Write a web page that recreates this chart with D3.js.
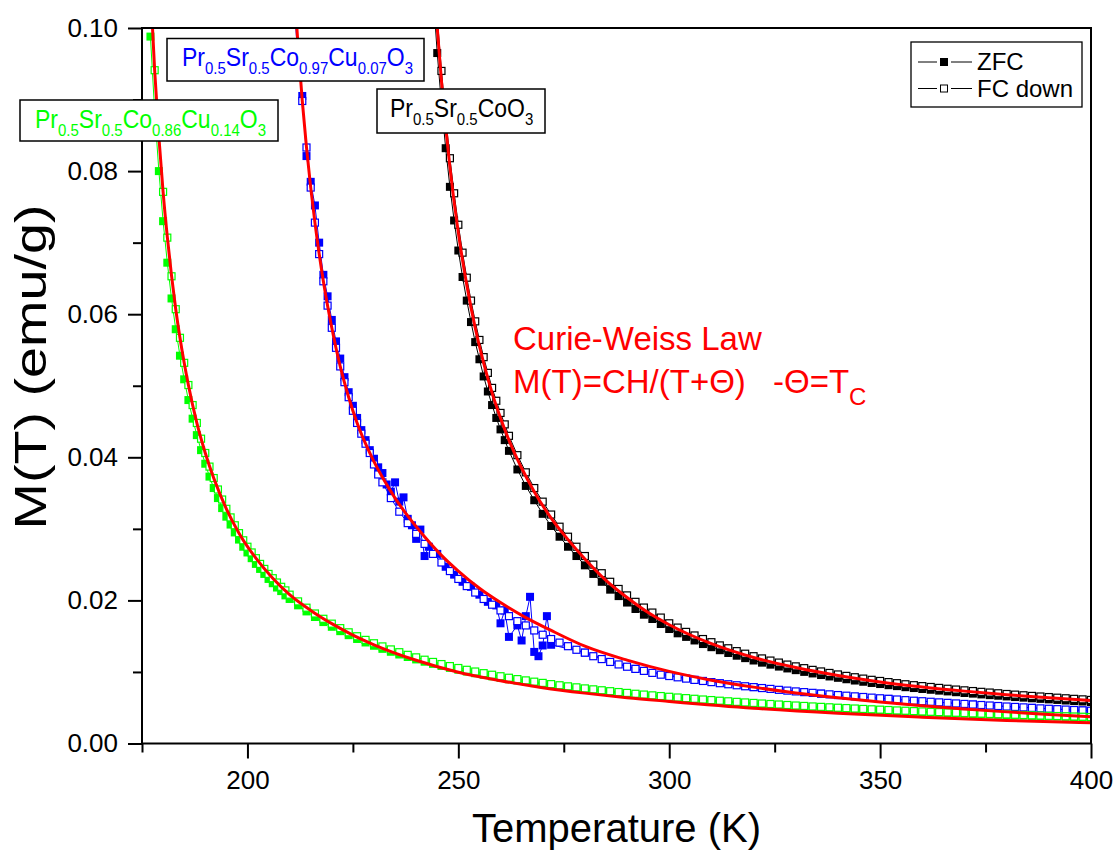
<!DOCTYPE html>
<html>
<head>
<meta charset="utf-8">
<script src="https://cdn.jsdelivr.net/npm/d3@7"></script>
<style>
  body { margin: 0; background: #fff; }
  svg text { font-family: Arial, "Liberation Sans", sans-serif; }
</style>
</head>
<body>
<svg id="chart" width="1118" height="852"></svg>
<script>
// ---- data (T in K, M in emu/g) ----
var blackT = [244,245,246,247,248,249,250,251,252,253,254,255,256,257,258,259,260,261,262,
  264,266,268,270,272,274,276,278,280,282,284,286,288,290,292,294,296,298,300,302,304,306,308,310,
  312,314,316,318,320,322,324,326,328,330,332,334,336,338,340,342,344,346,348,350,352,354,356,358,
  360,362,364,366,368,370,372,374,376,378,380,382,384,386,388,390,392,394,396,398,400];
var blackFC = [0.1103,0.1015,0.094,0.0875,0.0818,0.0769,0.0725,0.0686,0.0651,0.0619,0.059,0.0564,0.054,0.0518,0.0497,0.0479,0.0462,0.0446,0.043,
  0.0403,0.0379,0.0357,0.0338,0.032,0.0303,0.0289,0.0275,0.0262,0.025,0.0238,0.0226,0.0216,0.0207,0.0198,0.019,0.0183,0.0176,0.0168,0.0162,0.0156,0.0151,0.0146,0.01416,
  0.01371,0.01331,0.01291,0.01255,0.0122,0.01189,0.01159,0.01131,0.01103,0.01078,0.01053,0.01029,0.01007,0.00986,0.00965,0.00945,0.00926,0.00907,0.0089,0.00874,0.00858,0.00843,0.00828,0.00815,
  0.00802,0.0079,0.00777,0.00765,0.00754,0.00743,0.00733,0.00722,0.00712,0.00702,0.00692,0.00683,0.00674,0.00665,0.00657,0.00649,0.0064,0.00632,0.00624,0.00617,0.00609];
var blackZFC = [0.1049,0.0965,0.0894,0.0832,0.0778,0.0731,0.0689,0.0652,0.0619,0.0589,0.0561,0.0537,0.0513,0.0492,0.0473,0.0455,0.0439,0.0424,0.0409,
  0.0383,0.036,0.034,0.0321,0.0304,0.0289,0.0275,0.0262,0.0249,0.0237,0.0226,0.0215,0.0206,0.0197,0.0188,0.018,0.0174,0.0167,0.016,0.0154,0.0149,0.0144,0.0139,0.01346,
  0.01304,0.01265,0.01227,0.01193,0.0116,0.0113,0.01102,0.01075,0.01049,0.01025,0.01001,0.00979,0.00957,0.00937,0.00918,0.00898,0.0088,0.00863,0.00846,0.00831,0.00815,0.00802,0.00787,0.00775,
  0.00762,0.00751,0.00739,0.00728,0.00717,0.00706,0.00697,0.00686,0.00676,0.00668,0.00658,0.00649,0.00641,0.00632,0.00624,0.00617,0.00609,0.00601,0.00593,0.00587,0.00579];

var blueT = [211,212,213,214,215,216,217,218,219,220,221,222,223,224,225,226,227,228,229,230,231,232,
  234,236,238,240,242,244,246,248,250,252,254,256,258,260,262,264,266,268,270,272,274,276,278,280,282,284,286,288,290,
  292,294,296,298,300,302,304,306,308,310,312,314,316,318,320,322,324,326,328,330,332,334,336,338,340,342,344,346,348,350,
  352,354,356,358,360,362,364,366,368,370,372,374,376,378,380,382,384,386,388,390,392,394,396,398,400];
var blueFC = [0.1064,0.0975,0.0898,0.0833,0.0777,0.0728,0.0684,0.0646,0.0612,0.0581,0.0553,0.0527,0.0505,0.0484,0.0465,0.0448,0.0433,0.0419,0.0406,0.039,0.0376,0.0365,
  0.0343,0.0324,0.0308,0.0293,0.0279,0.0265,0.0253,0.0241,0.023,0.022,0.0211,0.0202,0.0194,0.0186,0.0178,0.0171,0.0165,0.0158,0.0152,0.0146,0.0141,0.0136,0.0131,0.0127,0.0122,0.0118,0.0114,0.01105,0.01073,
  0.01043,0.01015,0.00987,0.00962,0.00943,0.00925,0.00907,0.00889,0.00874,0.00858,0.00843,0.00828,0.00814,0.008,0.00788,0.00775,0.00763,0.0075,0.00739,0.00728,0.00718,0.00708,0.00697,0.00687,0.00677,0.00668,0.00659,0.0065,0.00641,0.00632,
  0.00624,0.00615,0.00606,0.00598,0.00591,0.00583,0.00575,0.00568,0.0056,0.00553,0.00545,0.00538,0.00531,0.00524,0.00517,0.00511,0.00505,0.00498,0.00491,0.00485,0.0048,0.00474,0.00468,0.00463,0.00458];
var blueZfcT = [211,212,213,214,215,216,217,218,219,220,221,222,223,224,225,226,227,228,229,230,231,232,233,234,235,236,237,238,239,240,241,242,243,
  245,247,249,251,253,255,257,259,260,261,262,264,265,266,267,268,269,270,271,272,280,292,306,320,336,352,372,386,398];
var blueZFC = [0.104,0.0955,0.0905,0.0821,0.0785,0.0752,0.07,0.0655,0.0625,0.0592,0.0562,0.0538,0.0512,0.0491,0.0472,0.0455,0.0438,0.0424,0.041,0.0398,0.0386,0.0378,0.0362,0.0352,0.0365,0.0338,0.0344,0.0314,0.0305,0.0286,0.0299,0.0262,0.0275,
  0.0265,0.0247,0.0236,0.0226,0.0219,0.0208,0.0198,0.0193,0.0168,0.0186,0.0149,0.0165,0.0144,0.0178,0.0205,0.0128,0.0122,0.0137,0.0178,0.0138,0.0127,0.01043,0.00889,0.00788,0.00697,0.00624,0.00545,0.00498,0.00463];

var greenT = [177,178,179,180,181,182,183,184,185,186,187,188,189,190,191,192,193,194,195,196,197,198,199,200,201,202,203,204,205,206,207,208,209,210,
  212,214,216,218,220,222,224,226,228,230,232,234,236,238,240,242,244,246,248,250,252,254,256,258,260,262,264,266,268,270,
  272,274,276,278,280,282,284,286,288,290,292,294,296,298,300,302,304,306,308,310,312,314,316,318,320,322,324,326,328,330,
  332,334,336,338,340,342,344,346,348,350,352,354,356,358,360,362,364,366,368,370,372,374,376,378,380,382,384,386,388,390,392,394,396,398,400];
var greenFC = [0.1057,0.0941,0.0848,0.0771,0.0707,0.0653,0.0607,0.0567,0.0532,0.0501,0.0473,0.0448,0.0426,0.0406,0.0387,0.0371,0.0355,0.0341,0.0328,0.0316,0.0305,0.0294,0.0284,0.0275,0.0267,0.0259,0.0251,0.0244,0.0237,0.0231,0.0225,0.0219,0.0214,0.0208,
  0.01986,0.01898,0.01817,0.01743,0.01675,0.01612,0.01554,0.01499,0.01448,0.01401,0.01357,0.01315,0.01276,0.01239,0.01204,0.01171,0.0114,0.0111,0.01082,0.01055,0.0103,0.01006,0.00983,0.00961,0.0094,0.00919,0.009,0.00882,0.00864,0.00847,
  0.0083,0.00814,0.00799,0.00785,0.0077,0.00757,0.00744,0.00731,0.00719,0.00707,0.00695,0.00684,0.00673,0.00663,0.00653,0.00643,0.00634,0.00625,0.00615,0.00607,0.00598,0.0059,0.00582,0.00574,0.00567,0.00559,0.00552,0.00545,0.00538,0.00531,
  0.00525,0.00518,0.00512,0.00506,0.005,0.00495,0.00489,0.00483,0.00478,0.00473,0.00468,0.00462,0.00458,0.00453,0.00448,0.00443,0.00439,0.00434,0.0043,0.00426,0.00421,0.00417,0.00413,0.00409,0.00406,0.00402,0.00398,0.00394,0.00391,0.00387,0.00384,0.0038,0.00377,0.00374,0.0037];
var greenZFC = [0.0988,0.0884,0.08,0.073,0.0672,0.0622,0.0579,0.0542,0.0509,0.048,0.0454,0.0431,0.041,0.0391,0.0373,0.0357,0.0343,0.0329,0.0317,0.0306,0.0295,0.0285,0.0275,0.0267,0.0259,0.0251,0.0244,0.0237,0.023,0.0224,0.0218,0.0213,0.0207,0.0202,
  0.01931,0.01846,0.01768,0.01697,0.01631,0.0157,0.01514,0.01461,0.01412,0.01366,0.01323,0.01282,0.01244,0.01209,0.01175,0.01143,0.01113,0.01084,0.01057,0.01031,0.01006,0.00982,0.0096,0.00939,0.00918,0.00898,0.0088,0.00862,0.00844,0.00828,
  0.00812,0.00796,0.00781,0.00767,0.00753,0.0074,0.00727,0.00715,0.00703,0.00691,0.0068,0.00669,0.00659,0.00649,0.00639,0.00629,0.0062,0.00611,0.00602,0.00594,0.00585,0.00577,0.00569,0.00562,0.00554,0.00547,0.0054,0.00533,0.00527,0.0052,
  0.00514,0.00508,0.00501,0.00496,0.0049,0.00484,0.00479,0.00473,0.00468,0.00463,0.00458,0.00453,0.00448,0.00443,0.00439,0.00434,0.0043,0.00425,0.00421,0.00417,0.00413,0.00409,0.00405,0.00401,0.00397,0.00393,0.0039,0.00386,0.00383,0.00379,0.00376,0.00373,0.00369,0.00366,0.00363];

// Curie-Weiss fit curves (red)
var blackFitT = [244,245,246,247,248,250,252,254,256,258,260,262,265,268,272,276,280,285,290,295,300,310,320,330,340,350,360,370,380,390,400];
var blackFitM = [0.1087,0.1,0.0926,0.0862,0.0806,0.0714,0.0641,0.0581,0.0532,0.049,0.0455,0.0424,0.0385,0.0352,0.0315,0.0285,0.0258,0.0228,0.0204,0.0183,0.0166,0.01395,0.01202,0.01062,0.00951,0.00861,0.0079,0.00732,0.00682,0.00639,0.006];
var blueFitT = [211,212,213,214,215,216,218,220,222,224,226,228,230,232,235,238,242,246,250,255,260,266,272,280,290,300,310,320,330,340,350,360,370,380,390,400];
var blueFitM = [0.1064,0.0975,0.0898,0.0833,0.0777,0.0728,0.0646,0.0581,0.0527,0.0484,0.0448,0.0419,0.0394,0.0372,0.0343,0.0318,0.0289,0.0263,0.0241,0.0217,0.0197,0.0176,0.0158,0.0136,0.01165,0.01008,0.00885,0.00788,0.00707,0.00639,0.0058,0.00528,0.00483,0.00442,0.00406,0.00375];
var greenFitT = [177,178,179,180,181,182,183,184,185,186,188,190,192,195,198,202,206,210,215,220,225,230,240,250,260,270,280,290,300,320,340,360,380,400];
var greenFitM = [0.1057,0.0941,0.0848,0.0771,0.0708,0.0654,0.0607,0.0567,0.0532,0.0501,0.0448,0.0406,0.0371,0.0328,0.0294,0.0259,0.0231,0.0208,0.0186,0.01675,0.01515,0.0138,0.01163,0.00995,0.00877,0.0078,0.00704,0.0064,0.00588,0.00493,0.00422,0.00368,0.00323,0.0029];

// ticks and text
var xMajor = [200, 250, 300, 350, 400];
var xMinor = [175, 225, 275, 325, 375];
var yMajor = [0, 0.02, 0.04, 0.06, 0.08, 0.10];
var yMinor = [0.01, 0.03, 0.05, 0.07, 0.09];
var greenLabel = [["Pr",0],["0.5",1],["Sr",0],["0.5",1],["Co",0],["0.86",1],["Cu",0],["0.14",1],["O",0],["3",1]];
var blueLabel  = [["Pr",0],["0.5",1],["Sr",0],["0.5",1],["Co",0],["0.97",1],["Cu",0],["0.07",1],["O",0],["3",1]];
var blackLabel = [["Pr",0],["0.5",1],["Sr",0],["0.5",1],["CoO",0],["3",1]];
var legendNames = ["ZFC", "FC down"];

var GREEN = "#00ff00", BLUE = "#0000ff", RED = "#ff0000";

var svg = d3.select("#chart");
svg.append("rect").attr("width", 1118).attr("height", 852).attr("fill", "#fff");

var x = d3.scaleLinear().domain([175, 400]).range([142, 1091]);
var y = d3.scaleLinear().domain([0, 0.1]).range([743.5, 28]);

svg.append("defs").append("clipPath").attr("id", "plotClip")
   .append("rect").attr("x", 142).attr("y", 28).attr("width", 949).attr("height", 715.5);

var plot = svg.append("g").attr("clip-path", "url(#plotClip)");

function pts(ts, ms) {
    var n = Math.min(ts.length, ms.length);
    return ts.slice(0, n).map(function(t, i) { return {t: t, m: ms[i]}; });
}

var series = [
    {t: blackT, m: blackZFC, color: "#000000", filled: true},
    {t: blackT, m: blackFC, color: "#000000", filled: false},
    {t: blueZfcT, m: blueZFC, color: BLUE, filled: true},
    {t: blueT, m: blueFC, color: BLUE, filled: false},
    {t: greenT, m: greenZFC, color: GREEN, filled: true},
    {t: greenT, m: greenFC, color: GREEN, filled: false}
];

var line = d3.line().x(function(d) { return x(d.t); }).y(function(d) { return y(d.m); });

series.forEach(function(s) {
    var data = pts(s.t, s.m);
    plot.append("path").datum(data)
        .attr("d", line)
        .attr("fill", "none")
        .attr("stroke", s.color)
        .attr("stroke-width", 1);
    plot.selectAll(null).data(data).enter().append("rect")
        .attr("x", function(d) { return x(d.t) - (s.filled ? 4 : 3.5); })
        .attr("y", function(d) { return y(d.m) - (s.filled ? 4 : 3.5); })
        .attr("width", s.filled ? 8 : 7)
        .attr("height", s.filled ? 8 : 7)
        .attr("fill", s.filled ? s.color : "#ffffff")
        .attr("stroke", s.filled ? "none" : s.color)
        .attr("stroke-width", 1.2);
});

var fitLine = d3.line().curve(d3.curveMonotoneX)
    .x(function(d) { return x(d.t); }).y(function(d) { return y(d.m); });

[[blackFitT, blackFitM], [blueFitT, blueFitM], [greenFitT, greenFitM]].forEach(function(f) {
    plot.append("path").datum(pts(f[0], f[1]))
        .attr("d", fitLine)
        .attr("fill", "none")
        .attr("stroke", RED)
        .attr("stroke-width", 3);
});

// axes
function styleAxis(g) {
    g.select(".domain").remove();
    g.selectAll(".tick line").attr("stroke", "#000").attr("stroke-width", 2);
    g.selectAll(".tick text").attr("fill", "#000").attr("font-size", 26)
     .style("font-family", "Arial, 'Liberation Sans', sans-serif");
}

svg.append("g").attr("transform", "translate(0,743.5)")
   .call(d3.axisBottom(x).tickValues(xMajor).tickSize(15).tickPadding(12).tickFormat(d3.format("d")))
   .call(styleAxis);
svg.append("g").attr("transform", "translate(0,743.5)")
   .call(d3.axisBottom(x).tickValues(xMinor).tickSize(9).tickFormat(""))
   .call(styleAxis);
svg.append("g").attr("transform", "translate(142,0)")
   .call(d3.axisLeft(y).tickValues(yMajor).tickSize(14).tickPadding(10).tickFormat(d3.format(".2f")))
   .call(styleAxis);
svg.append("g").attr("transform", "translate(142,0)")
   .call(d3.axisLeft(y).tickValues(yMinor).tickSize(9).tickFormat(""))
   .call(styleAxis);

svg.append("rect")
   .attr("x", x(175)).attr("y", y(0.1))
   .attr("width", x(400) - x(175)).attr("height", y(0) - y(0.1))
   .attr("fill", "none").attr("stroke", "#000").attr("stroke-width", 2);

svg.append("text")
   .attr("x", (x(175) + x(400)) / 2).attr("y", 842)
   .attr("text-anchor", "middle").attr("font-size", 40)
   .text("Temperature (K)");

svg.append("text")
   .attr("transform", "translate(46,367) rotate(-90)")
   .attr("text-anchor", "middle").attr("font-size", 45)
   .attr("textLength", 325).attr("lengthAdjust", "spacingAndGlyphs")
   .text("M(T) (emu/g)");

// compound labels with subscripts (glyphs slightly taller than wide, as in the source)
function formula(x0, y0, parts, color, big, small, shift) {
    var t = svg.append("text")
        .attr("transform", "translate(" + x0 + "," + y0 + ") scale(1,1.15)")
        .attr("fill", color).attr("font-size", big);
    var low = false;
    parts.forEach(function(p) {
        var sp = t.append("tspan").text(p[0]);
        if (p[1] && !low) { sp.attr("dy", shift).attr("font-size", small); low = true; }
        else if (p[1]) { sp.attr("font-size", small); }
        else if (!p[1] && low) { sp.attr("dy", -shift); low = false; }
    });
    return t;
}

function labelBox(x0, y0, w, h) {
    svg.append("rect").attr("x", x0).attr("y", y0).attr("width", w).attr("height", h)
       .attr("fill", "#fff").attr("stroke", "#000").attr("stroke-width", 1.5);
}

labelBox(20, 100, 258, 41);
formula(35, 128, greenLabel, GREEN, 23, 15, 7);
labelBox(167, 38.5, 257, 42.5);
formula(182, 66, blueLabel, BLUE, 23, 15, 7);
labelBox(377, 89, 168, 44);
formula(390, 117, blackLabel, "#000000", 23, 15, 7);

// Curie-Weiss annotation
svg.append("text").attr("x", 513).attr("y", 350).attr("fill", RED).attr("font-size", 33)
   .text("Curie-Weiss Law");
svg.append("text").attr("x", 513).attr("y", 393).attr("fill", RED).attr("font-size", 33)
   .text("M(T)=CH/(T+\u0398)");
var tc = svg.append("text").attr("x", 773).attr("y", 393).attr("fill", RED).attr("font-size", 33);
tc.append("tspan").text("-\u0398=T");
tc.append("tspan").attr("dy", 12).attr("font-size", 24).text("C");

// legend
var lg = svg.append("g");
lg.append("rect").attr("x", 911).attr("y", 42).attr("width", 171).attr("height", 65)
  .attr("fill", "#fff").attr("stroke", "#000").attr("stroke-width", 1.3);
legendNames.forEach(function(name, i) {
    var cy = 62 + i * 26.5;
    lg.append("line").attr("x1", 918).attr("x2", 937).attr("y1", cy).attr("y2", cy).attr("stroke", "#000").attr("stroke-width", 1);
    lg.append("line").attr("x1", 951).attr("x2", 972).attr("y1", cy).attr("y2", cy).attr("stroke", "#000").attr("stroke-width", 1);
    lg.append("rect").attr("x", 940.5).attr("y", cy - 3.5).attr("width", 7).attr("height", 7)
      .attr("fill", i === 0 ? "#000" : "#fff").attr("stroke", "#000").attr("stroke-width", 1);
    lg.append("text").attr("x", 977).attr("y", cy + 8).attr("font-size", 24).attr("fill", "#000").text(name);
});
</script>
</body>
</html>
